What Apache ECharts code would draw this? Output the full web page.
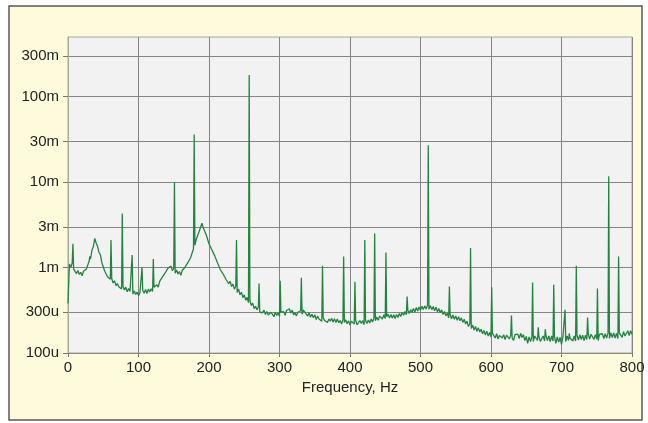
<!DOCTYPE html>
<html>
<head>
<meta charset="utf-8">
<script src="https://cdn.jsdelivr.net/npm/echarts@6/dist/echarts.min.js"></script>
<style>
  html, body { margin: 0; padding: 0; background: #ffffff; }
  #chart { width: 648px; height: 423px; }
</style>
</head>
<body>
<div id="chart"></div>
<script>
// spectrum floor, sampled every 2 Hz from 0 to 800 Hz, in microvolts
const stepHz = 2;
const floorUV = [
  380,1100,1010,1130,960,950,850,925,830,880,
  800,905,860,960,990,1190,1260,1600,1760,2200,
  1930,1760,1500,1410,1140,1110,910,900,780,820,
  730,745,660,700,615,650,595,625,560,600,
  545,590,520,570,525,550,490,530,485,515,
  470,505,485,540,500,555,495,560,520,565,
  525,590,560,630,590,690,670,780,750,870,
  840,990,950,1040,920,980,860,935,840,900,
  810,925,880,1010,970,1140,1090,1310,1290,1660,
  1820,2150,2100,2650,2650,3300,2900,2950,2420,2380,
  1900,1950,1620,1660,1380,1400,1140,1170,950,990,
  840,860,730,760,650,690,600,640,560,600,
  510,560,480,515,445,480,415,448,388,415,
  360,384,330,352,320,345,300,312,296,318,
  282,306,278,270,300,290,266,298,276,296,
  270,300,290,305,276,314,302,330,294,318,
  280,296,272,300,285,312,284,318,300,310,
  270,296,262,284,258,280,246,270,250,262,
  236,258,240,252,228,250,236,254,230,252,
  228,250,226,240,218,246,228,244,220,238,
  212,236,230,218,240,214,226,240,222,238,
  214,240,222,244,224,250,230,258,238,264,
  242,270,262,250,280,254,266,284,256,282,
  256,280,254,282,260,290,268,298,276,306,
  280,316,290,322,298,332,302,340,310,346,
  316,352,322,356,328,362,326,358,322,350,
  312,344,304,332,296,320,282,306,272,292,
  258,282,252,278,248,272,242,266,238,258,
  228,248,218,236,204,222,194,212,186,204,
  180,198,176,190,168,184,162,180,158,174,
  154,170,162,150,168,146,160,164,150,164,
  144,162,156,146,162,150,140,164,158,166,
  148,170,152,164,140,156,130,154,136,156,
  136,158,150,140,156,136,148,158,138,160,
  140,158,136,158,138,156,130,154,134,152,
  126,154,146,136,158,140,150,158,138,158,
  138,160,142,164,144,162,140,162,144,166,
  146,166,158,144,164,146,140,166,160,168,
  148,168,150,172,148,172,152,172,150,170,
  148,172,164,152,178,158,166,182,160,182,
  166
];

// narrow spectral lines
const peakHz = [7, 31, 61, 77, 91, 105, 121, 151, 179, 239, 257, 271, 301, 331, 361, 391, 407, 421, 435, 451,
  481, 511, 541, 571, 601, 629, 659, 667, 677, 689, 705, 711, 721, 737, 751, 767, 781];
const peakUV = [1900, 1350, 2100, 4300, 1400, 1000, 1260, 10000, 36000, 2100, 180000, 650, 700, 760, 1050, 1350, 680, 2100, 2500, 1500,
  457, 27000, 600, 1690, 590, 274, 670, 200, 190, 630, 320, 170, 1050, 260, 570, 11700, 1350];

const yTickValues = [1e-4, 3e-4, 1e-3, 3e-3, 1e-2, 3e-2, 0.1, 0.3];
const yTickLabels = ['100u', '300u', '1m', '3m', '10m', '30m', '100m', '300m'];
const yMin = 1e-4;
const yMax = 0.5;

// merge floor and lines, plot log10 of volts
const points = floorUV.map((v, i) => [i * stepHz, v]);
peakHz.forEach((f, i) => points.push([f, peakUV[i]]));
points.sort((a, b) => a[0] - b[0]);
const seriesData = points.map(p => [p[0], Math.log10(p[1] * 1e-6)]);

const chart = echarts.init(document.getElementById('chart'));
const fontFamily = '"Liberation Sans", Arial, sans-serif';

chart.setOption({
  animation: false,
  backgroundColor: '#ffffff',
  graphic: [{
    type: 'rect',
    z: -10,
    silent: true,
    shape: { x: 9, y: 6, width: 633, height: 414 },
    style: { fill: '#fdfbdb', stroke: '#5a5a5a', lineWidth: 1.5 }
  }],
  grid: {
    left: 68, right: 16, top: 37, bottom: 70,
    show: true,
    backgroundColor: '#f2f2f3',
    borderColor: '#a8a89c',
    borderWidth: 1
  },
  xAxis: {
    type: 'value',
    min: 0,
    max: 800,
    interval: 100,
    name: 'Frequency, Hz',
    nameLocation: 'middle',
    nameGap: 22,
    nameTextStyle: { color: '#222', fontSize: 15, fontFamily: fontFamily },
    axisLine: { show: true, lineStyle: { color: '#8a8a86', width: 1 } },
    axisTick: { show: true, length: 4, lineStyle: { color: '#777' } },
    axisLabel: { color: '#222', fontSize: 15, fontFamily: fontFamily, margin: 7 },
    splitLine: { show: true, lineStyle: { color: '#858585', width: 1 } }
  },
  yAxis: {
    type: 'value',
    min: Math.log10(yMin),
    max: Math.log10(yMax),
    axisLine: { show: true, lineStyle: { color: '#a8a89c', width: 1 } },
    axisTick: {
      show: true,
      length: 5,
      lineStyle: { color: '#777' },
      customValues: yTickValues.map(v => Math.log10(v))
    },
    axisLabel: {
      color: '#222',
      fontSize: 15,
      fontFamily: fontFamily,
      margin: 9,
      customValues: yTickValues.map(v => Math.log10(v)),
      formatter: (val) => {
        const i = yTickValues.findIndex(t => Math.abs(Math.log10(t) - val) < 1e-6);
        return i >= 0 ? yTickLabels[i] : '';
      }
    },
    splitLine: { show: true, lineStyle: { color: '#858585', width: 1 } }
  },
  series: [{
    type: 'line',
    data: seriesData,
    showSymbol: false,
    symbol: 'none',
    sampling: 'none',
    lineStyle: { color: '#22843f', width: 1.3 }
  }]
});
</script>
</body>
</html>
